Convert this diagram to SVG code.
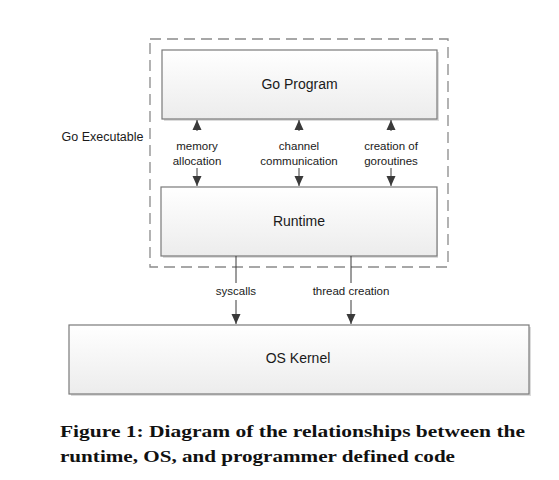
<svg xmlns="http://www.w3.org/2000/svg" width="559" height="480" viewBox="0 0 559 480">
  <style>
    .box { stroke: #7a7a7a; stroke-width: 1.2; fill: url(#boxFill); }
    .shadow { fill: #dcdcdc; }
    .label { font-family: "Liberation Sans", Arial, sans-serif; fill: #1a1a1a; text-anchor: middle; }
    .big { font-size: 14px; }
    .small { font-size: 11.5px; }
    .wire { stroke: #3a3a3a; stroke-width: 1; fill: none; }
    .caption { font-family: "Liberation Serif", "Times New Roman", serif; font-weight: bold; font-size: 16px; fill: #111; }
  </style>
  <defs>
    <linearGradient id="boxFill" x1="0" y1="0" x2="0" y2="1">
      <stop offset="0" stop-color="#ffffff"/>
      <stop offset="1" stop-color="#ececec"/>
    </linearGradient>
    <marker id="arrow" viewBox="0 0 10 10" refX="10" refY="5" markerWidth="10" markerHeight="10" markerUnits="userSpaceOnUse" orient="auto">
      <path d="M0,0.5 L10,5 L0,9.5 z" fill="#3a3a3a"/>
    </marker>
  </defs>

  <rect width="559" height="480" fill="#ffffff"/>

  <!-- executable boundary -->
  <g id="executable">
    <rect x="150" y="39" width="298" height="228" fill="none" stroke="#8a8a8a" stroke-width="1.3" stroke-dasharray="11,6"/>
    <text class="label" x="102.5" y="141" font-size="12.5px">Go Executable</text>
  </g>

  <g id="go-program">
    <rect class="shadow" x="164" y="52" width="275" height="69"/>
    <rect class="box" x="162" y="50" width="275" height="69"/>
    <text class="label big" x="299.5" y="89">Go Program</text>
  </g>

  <g id="runtime">
    <rect class="shadow" x="163" y="189" width="275" height="69"/>
    <rect class="box" x="161" y="187" width="276" height="69"/>
    <text class="label big" x="299" y="226">Runtime</text>
  </g>

  <g id="os-kernel">
    <rect class="shadow" x="71" y="327" width="460" height="69"/>
    <rect class="box" x="69" y="325" width="460" height="69"/>
    <text class="label big" x="298" y="363">OS Kernel</text>
  </g>

  <g id="connectors">
    <!-- runtime to program (upward) -->
    <line class="wire" x1="197" y1="131" x2="197" y2="120" marker-end="url(#arrow)"/>
    <line class="wire" x1="299" y1="131" x2="299" y2="120" marker-end="url(#arrow)"/>
    <line class="wire" x1="391" y1="131" x2="391" y2="120" marker-end="url(#arrow)"/>
    <!-- program to runtime (downward) -->
    <line class="wire" x1="197" y1="168" x2="197" y2="186" marker-end="url(#arrow)"/>
    <line class="wire" x1="299" y1="168" x2="299" y2="186" marker-end="url(#arrow)"/>
    <line class="wire" x1="391" y1="168" x2="391" y2="186" marker-end="url(#arrow)"/>
    <!-- runtime to kernel -->
    <line class="wire" x1="236" y1="256" x2="236" y2="283"/>
    <line class="wire" x1="236" y1="300" x2="236" y2="324" marker-end="url(#arrow)"/>
    <line class="wire" x1="351" y1="256" x2="351" y2="283"/>
    <line class="wire" x1="351" y1="300" x2="351" y2="324" marker-end="url(#arrow)"/>

    <text class="label small" x="197" y="150">memory</text>
    <text class="label small" x="197" y="165">allocation</text>
    <text class="label small" x="299" y="150">channel</text>
    <text class="label small" x="299" y="165">communication</text>
    <text class="label small" x="391" y="150">creation of</text>
    <text class="label small" x="391" y="165">goroutines</text>
    <text class="label small" x="236" y="295">syscalls</text>
    <text class="label small" x="351" y="295">thread creation</text>
  </g>

  <text class="caption" x="60" y="437" textLength="465" lengthAdjust="spacingAndGlyphs">Figure 1: Diagram of the relationships between the</text>
  <text class="caption" x="60" y="462" textLength="395" lengthAdjust="spacingAndGlyphs">runtime, OS, and programmer defined code</text>
</svg>
